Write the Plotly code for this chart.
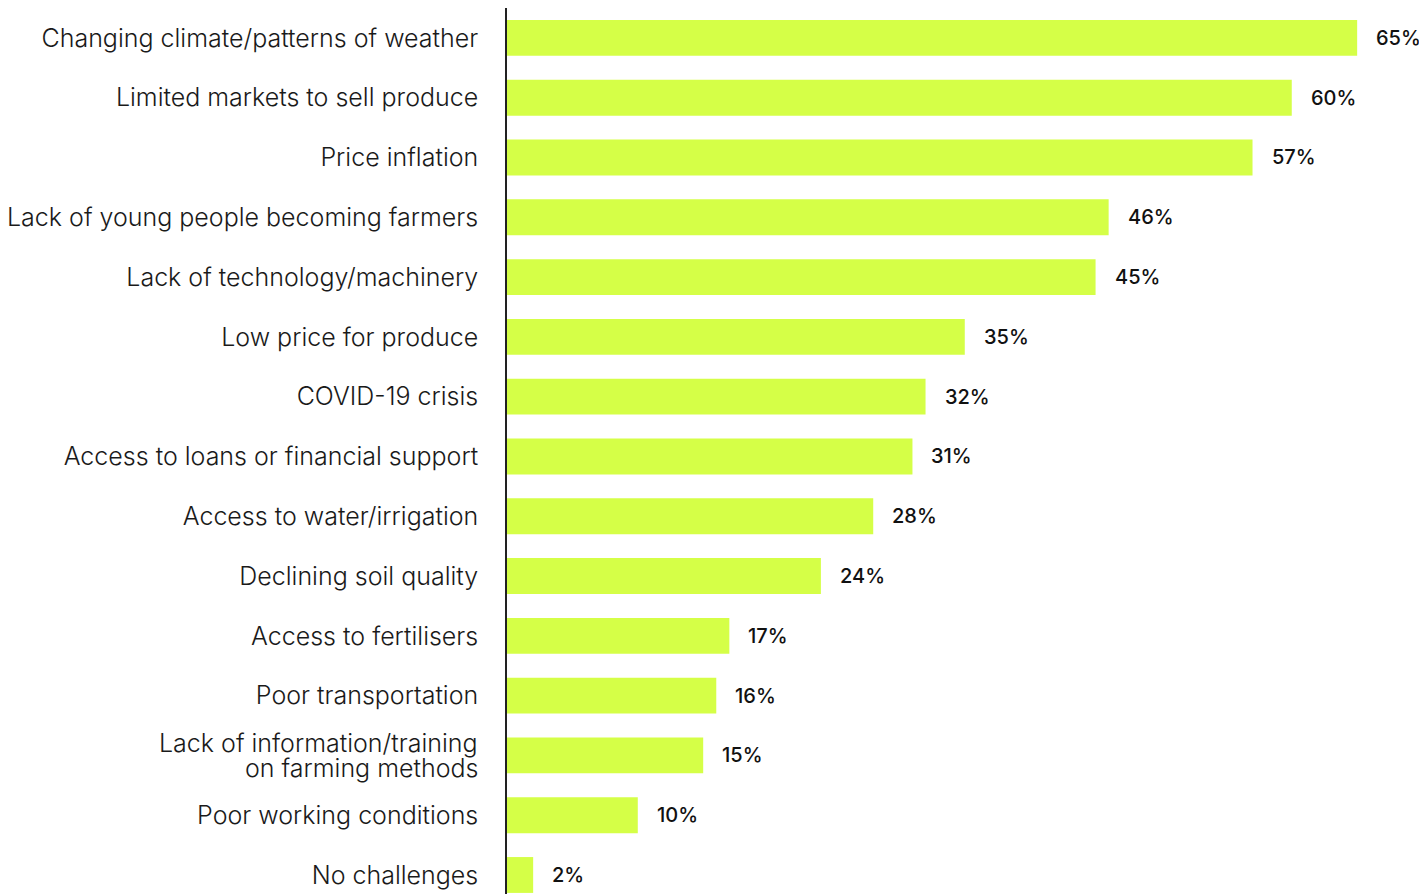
import plotly.graph_objects as go

categories = [
    "Changing climate/patterns of weather",
    "Limited markets to sell produce",
    "Price inflation",
    "Lack of young people becoming farmers",
    "Lack of technology/machinery",
    "Low price for produce",
    "COVID-19 crisis",
    "Access to loans or financial support",
    "Access to water/irrigation",
    "Declining soil quality",
    "Access to fertilisers",
    "Poor transportation",
    "Lack of information/training<br>on farming methods",
    "Poor working conditions",
    "No challenges",
]
values = [65, 60, 57, 46, 45, 35, 32, 31, 28, 24, 17, 16, 15, 10, 2]
value_labels = [f"{v}%" for v in values]

BAR = "#D5FF47"
FONT = "Inter"
LABEL_FONT = dict(family=FONT, size=25, color="#1a1a1a", weight=300)

fig = go.Figure()
fig.add_trace(go.Bar(
    y=categories, x=values, orientation="h",
    marker=dict(color=BAR, line=dict(width=0)),
    width=0.6, hoverinfo="skip",
))

for c, v, t in zip(categories, values, value_labels):
    fig.add_annotation(
        x=v, y=c, text=t, showarrow=False, xanchor="left", yanchor="middle",
        xshift=17, font=dict(family=FONT, size=20, color="#111111", weight=500),
    )

# multi-line labels drawn line by line for tighter line spacing
ticktext = []
for c in categories:
    if "<br>" in c:
        ticktext.append("")
        lines = c.split("<br>")
        n = len(lines)
        for i, ln in enumerate(lines):
            fig.add_annotation(
                x=0, xref="paper", y=c, text=ln, showarrow=False,
                xanchor="right", yanchor="middle", xshift=-27,
                yshift=(n - 1) / 2 * 25 - i * 25, font=LABEL_FONT,
            )
    else:
        ticktext.append(c)

fig.update_layout(
    width=1419, height=886,
    margin=dict(l=499, r=0, t=0, b=0, autoexpand=False),
    paper_bgcolor="white", plot_bgcolor="white",
    showlegend=False,
    bargap=0.4,
)
fig.update_xaxes(range=[0, 70.34], visible=False, showgrid=False, zeroline=False,
                 automargin=False)
fig.update_yaxes(
    type="category", categoryorder="array", categoryarray=categories,
    tickmode="array", tickvals=categories, ticktext=ticktext,
    range=[14.318, -0.5], autorange=False, automargin=False,
    showline=True, linecolor="#222222", linewidth=1.5,
    showgrid=False, zeroline=False, ticks="",
    ticklabelstandoff=22,
    tickfont=LABEL_FONT,
)

fig.write_html("out.html")
